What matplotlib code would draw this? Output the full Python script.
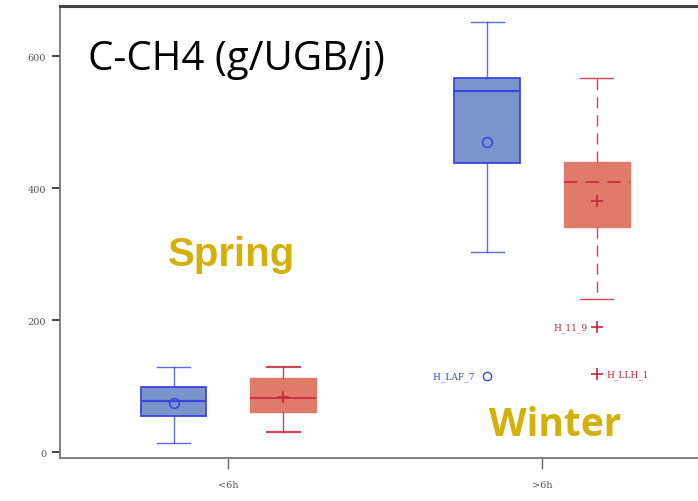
import matplotlib
matplotlib.use("Agg")
import matplotlib.pyplot as plt

categories = ["<6h", ">6h"]
# box stats: whislo, q1, med, q3, whishi, mean
blue_stats = [
    dict(whislo=14, q1=55, med=77, q3=98, whishi=129, mean=75),
    dict(whislo=303, q1=438, med=547, q3=567, whishi=651, mean=470),
]
red_stats = [
    dict(whislo=30, q1=61, med=82, q3=112, whishi=129, mean=83),
    dict(whislo=232, q1=341, med=409, q3=439, whishi=567, mean=380),
]
blue_outliers = [(1, 115, "H_LAF_7")]
red_outliers = [(1, 189, "H_11_9"), (1, 118, "H_LLH_1")]
yticks = [0, 200, 400, 600]

W, H = 698, 502
fig = plt.figure(figsize=(W / 100, H / 100), dpi=100)
ax = fig.add_axes([60 / W, 1 - 459 / H, (W - 60) / W + 0.01, (459 - 7) / H])

off = 0.175
width = 0.21
blue_edge = "#3a46e0"
blue_fill = "#7b95cc"
red_edge = "#c8283a"
red_fill = "#e07a6a"

for i, s in enumerate(blue_stats):
    st = dict(s, fliers=[])
    ax.bxp([st], positions=[i - off], widths=width, patch_artist=True,
           showmeans=True, showfliers=False,
           boxprops=dict(facecolor=blue_fill, edgecolor=blue_edge, linewidth=1.3),
           medianprops=dict(color=blue_edge, linewidth=1.6),
           whiskerprops=dict(color=blue_edge, linewidth=1.0, alpha=0.8),
           capprops=dict(color=blue_edge, linewidth=1.0, alpha=0.8),
           meanprops=dict(marker="o", markerfacecolor="none", markeredgecolor=blue_edge,
                          markersize=7, markeredgewidth=1.2),
           capwidths=width / 2)

for i, s in enumerate(red_stats):
    st = dict(s, fliers=[])
    ls = "-" if i == 0 else (0, (8, 5))
    ax.bxp([st], positions=[i + off], widths=width, patch_artist=True,
           showmeans=True, showfliers=False,
           boxprops=dict(facecolor=red_fill, edgecolor=red_fill, linewidth=1.0),
           medianprops=dict(color=red_edge, linewidth=1.2, linestyle=ls),
           whiskerprops=dict(color=red_edge, linewidth=1.0, alpha=0.85, linestyle=ls),
           capprops=dict(color=red_edge, linewidth=1.6 if i == 0 else 1.0, alpha=0.85),
           meanprops=dict(marker="+", markeredgecolor=red_edge, markersize=9,
                          markeredgewidth=1.2),
           capwidths=width / 2)

for x, y, lab in blue_outliers:
    ax.plot(x - off, y, marker="o", markerfacecolor="none", markeredgecolor=blue_edge,
            markersize=6, linestyle="none")
    ax.text(x - off - 0.03, y, lab + " ", color=blue_edge, fontsize=6.5,
            family="DejaVu Serif", ha="right", va="center")
for j, (x, y, lab) in enumerate(red_outliers):
    ax.plot(x + off, y, marker="+", color=red_edge, markersize=8, markeredgewidth=1.2,
            linestyle="none")
    if j == 0:
        ax.text(x + off - 0.03, y, lab, color=red_edge, fontsize=6.5,
                family="DejaVu Serif", ha="right", va="center")
    else:
        ax.text(x + off + 0.03, y, lab, color=red_edge, fontsize=6.5,
                family="DejaVu Serif", ha="left", va="center")

ax.set_xlim(-0.537, 1.52)
ax.set_ylim(-9, 676)
ax.set_xticks([0, 1])
ax.set_xticklabels(categories, family="DejaVu Serif", fontsize=7, color="#555555")
ax.set_yticks(yticks)
ax.set_yticklabels([str(v) for v in yticks], family="DejaVu Serif", fontsize=7,
                   color="#555555")
ax.tick_params(axis="y", length=6, width=1.3, color="#333333", pad=4)
ax.tick_params(axis="x", length=8, width=1.0, color="#666666", pad=8)
for sp in ["left", "bottom"]:
    ax.spines[sp].set_color("#777777")
    ax.spines[sp].set_linewidth(1.3)
ax.spines["top"].set_color("#444444")
ax.spines["top"].set_linewidth(2.2)
ax.spines["right"].set_visible(False)

gold = "#d4b00a"
fig.text(88 / W, 1 - 60 / H, "C-CH4 (g/UGB/j)", fontsize=29, family="Open Sans",
         color="black", ha="left", va="center")
fig.text(231 / W, 1 - 255 / H, "Spring", fontsize=29, family="Liberation Sans",
         fontweight="bold", color=gold, ha="center", va="center")
fig.text(555 / W, 1 - 425 / H, "Winter", fontsize=28, family="Open Sans",
         fontweight="bold", color=gold, ha="center", va="center")

fig.savefig("out.png", dpi=100)
